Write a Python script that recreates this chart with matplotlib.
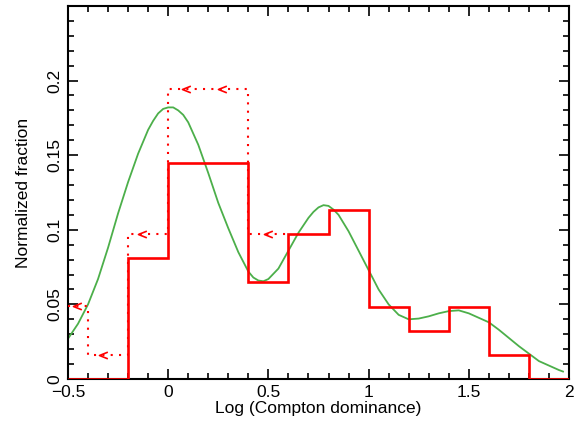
import matplotlib
matplotlib.use('Agg')
import matplotlib.pyplot as plt
from matplotlib.ticker import MultipleLocator

plt.rcParams['font.family'] = ['Liberation Sans', 'DejaVu Sans']

# histogram of detected sources
edges = [-0.5, -0.2, 0.0, 0.4, 0.6, 0.8, 1.0, 1.2, 1.4, 1.6, 1.8, 2.0]
fraction = [0.0, 0.081, 0.145, 0.065, 0.097, 0.113, 0.048, 0.032, 0.048, 0.016, 0.0]

# upper limits (dotted part)
lim_edges = [-0.5, -0.4, -0.2, 0.0, 0.4, 0.6]
lim_fraction = [0.049, 0.016, 0.097, 0.194, 0.097]
arrow_x = [-0.475, -0.345, -0.15, 0.07, 0.25, 0.48]
arrow_y = [0.049, 0.016, 0.097, 0.194, 0.194, 0.097]

# smoothed distribution
curve_x = [-0.5, -0.45, -0.4, -0.35, -0.3, -0.25, -0.2, -0.15, -0.1, -0.075, -0.05, -0.025,
           0.0, 0.025, 0.05, 0.075, 0.1, 0.15, 0.2, 0.25, 0.3, 0.35, 0.4, 0.425, 0.45, 0.475,
           0.5, 0.55, 0.6, 0.65, 0.7, 0.725, 0.75, 0.775, 0.8, 0.825, 0.85, 0.9,
           0.95, 1.0, 1.05, 1.1, 1.15, 1.2, 1.25, 1.3, 1.35, 1.4,
           1.45, 1.5, 1.55, 1.6, 1.65, 1.7, 1.75, 1.8, 1.85, 1.9, 1.95, 1.97]
curve_y = [0.027, 0.037, 0.050, 0.067, 0.088, 0.111, 0.132, 0.151, 0.167, 0.173, 0.178, 0.181,
           0.182, 0.182, 0.180, 0.177, 0.172, 0.157, 0.138, 0.118, 0.101, 0.085, 0.072, 0.068, 0.066, 0.0655,
           0.067, 0.074, 0.086, 0.098, 0.108, 0.112, 0.115, 0.1165, 0.116, 0.1135, 0.110, 0.099,
           0.086, 0.073, 0.060, 0.050, 0.043, 0.040, 0.0405, 0.042, 0.044, 0.0455,
           0.046, 0.044, 0.041, 0.038, 0.033, 0.0275, 0.022, 0.017, 0.012, 0.009, 0.006, 0.005]

fig = plt.figure(figsize=(5.83, 4.23), dpi=100)
ax = fig.add_axes([0.1166, 0.104, 0.8594, 0.882])

ax.plot(curve_x, curve_y, color='#4caf4a', lw=1.3, zorder=2)
ax.stairs(fraction, edges, color='red', lw=1.9, baseline=None, zorder=3)
ax.stairs(lim_fraction, lim_edges, color='red', lw=1.5, baseline=None,
          linestyle=(0, (1, 3)), zorder=3)
chevron = [(2, 0.8), (0, 0), (2, -0.8)]
ax.plot(arrow_x, arrow_y, ls='none', marker=chevron, ms=12, mfc='none',
        mec='red', mew=1.2, zorder=4)

ax.set_xlim(-0.5, 2.0)
ax.set_ylim(0, 0.25)
ax.xaxis.set_major_locator(MultipleLocator(0.5))
ax.xaxis.set_minor_locator(MultipleLocator(0.1))
ax.yaxis.set_major_locator(MultipleLocator(0.05))
ax.yaxis.set_minor_locator(MultipleLocator(0.01))
ax.set_xticklabels(['', '\u22120.5', '0', '0.5', '1', '1.5', '2'])
ax.set_yticks([0, 0.05, 0.1, 0.15, 0.2])
ax.set_yticklabels(['0', '0.05', '0.1', '0.15', '0.2'], rotation=90, va='center')
ax.tick_params(which='both', direction='in', top=True, right=True, width=1.2,
               labelsize=12.5, pad=4)
ax.tick_params(which='major', length=7)
ax.tick_params(which='minor', length=4)
for s in ax.spines.values():
    s.set_linewidth(1.5)

ax.set_xlabel('Log (Compton dominance)', fontsize=12.5, labelpad=1)
ax.set_ylabel('Normalized fraction', fontsize=12.5, labelpad=12)

fig.savefig('out.png', dpi=100)
